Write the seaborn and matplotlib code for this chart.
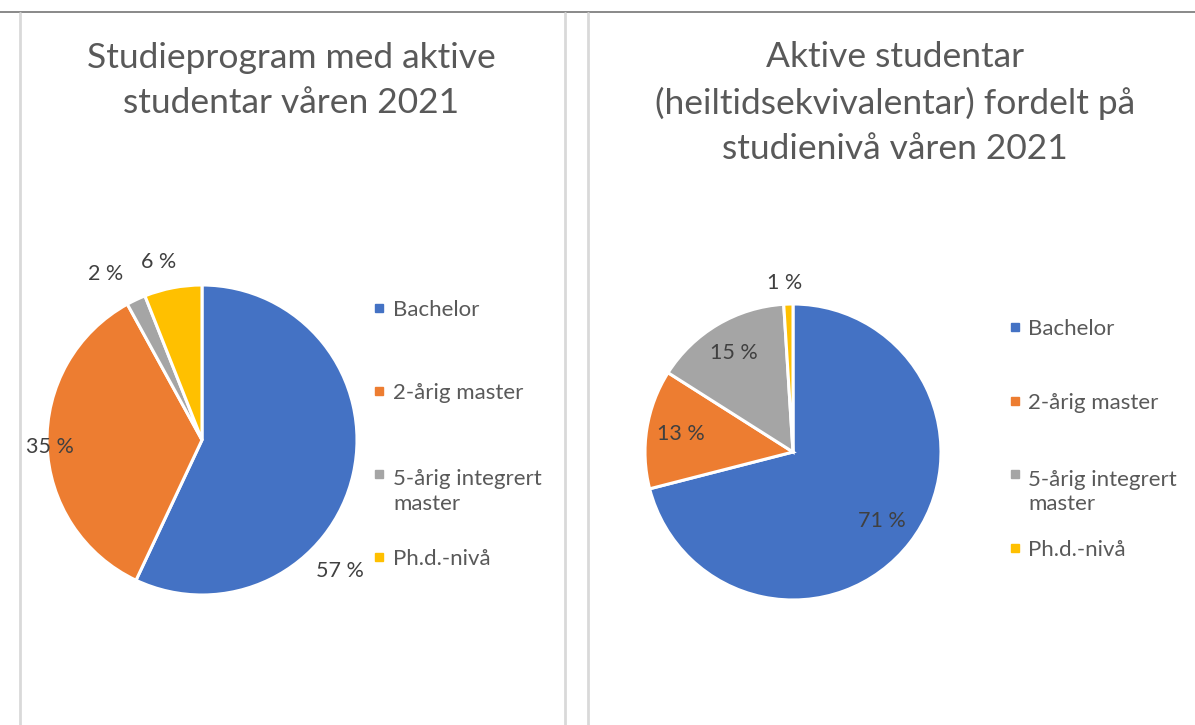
import numpy as np
import matplotlib.pyplot as plt
import seaborn as sns
from matplotlib.lines import Line2D
from matplotlib.patches import Rectangle

# data
categories = ["Bachelor", "2-årig master", "5-årig integrert\nmaster", "Ph.d.-nivå"]
program_share = [57, 35, 2, 6]      # studieprogram med aktive studentar
fte_share = [71, 13, 15, 1]         # aktive studentar (heiltidsekvivalentar)

title_left = "Studieprogram med aktive\nstudentar våren 2021"
title_right = "Aktive studentar\n(heiltidsekvivalentar) fordelt på\nstudienivå våren 2021"

W, H = 1195, 725
TXT = "#595959"


def main():
    sns.set_theme(style="white")
    plt.rcParams["font.family"] = ["Lato", "DejaVu Sans"]
    colors = sns.color_palette(["#4472C4", "#ED7D31", "#A5A5A5", "#FFC000"])

    fig = plt.figure(figsize=(W / 100, H / 100), dpi=100)
    fig.patch.set_facecolor("white")

    draw_frame(fig)

    # left pie, labels outside (best fit)
    ax1 = px_axes(fig, 202, 440, 155)
    draw_pie(ax1, program_share, colors, [1.23, 0.98, 1.24, 1.18], [-31, 1, 5, 3])
    fig.text(291 / W, 1 - 80.5 / H, title_left, ha="center", va="center",
             fontsize=25.5, color=TXT, linespacing=1.52)
    draw_legend(fig, colors, 379, 393, 308, 83)

    # right pie, labels inside
    ax2 = px_axes(fig, 793, 452, 148)
    draw_pie(ax2, fte_share, colors, [0.76, 0.77, 0.78, 1.14], [0, 0, 0, 1])
    fig.text(895 / W, 1 - 103 / H, title_right, ha="center", va="center",
             fontsize=25.5, color=TXT, linespacing=1.52)
    draw_legend(fig, colors, 1015, 1028, 327, 73.7)

    fig.savefig("out.png", dpi=100)


def px_axes(fig, cx, cy, r):
    return fig.add_axes([(cx - r) / W, (H - cy - r) / H, 2 * r / W, 2 * r / H])


def draw_pie(ax, values, colors, dists, offsets):
    wedges, _ = ax.pie(values, colors=colors, startangle=90, counterclock=False,
                       wedgeprops=dict(edgecolor="white", linewidth=2.2))
    for w in wedges:
        w.set_clip_on(False)
    ax.set_xlim(-1, 1)
    ax.set_ylim(-1, 1)
    ax.set_aspect("equal")
    ax.axis("off")
    for w, v, d, off in zip(wedges, values, dists, offsets):
        ang = np.deg2rad((w.theta1 + w.theta2) / 2 + off)
        ax.text(d * np.cos(ang), d * np.sin(ang), f"{v} %", ha="center", va="center",
                fontsize=15.5, color="#404040")


def draw_legend(fig, colors, mx, tx, y0, step):
    for i, (lab, col) in enumerate(zip(categories, colors)):
        y = y0 + i * step
        fig.patches.append(Rectangle(((mx - 4) / W, 1 - (y + 4) / H), 8 / W, 8 / H,
                                     transform=fig.transFigure, color=col))
        # baseline of the first line sits a little under the marker centre
        n = lab.count("\n")
        fig.text(tx / W, 1 - (y + 8 + 28 * n) / H, lab, ha="left", va="baseline",
                 fontsize=16, color=TXT, linespacing=1.3)


def draw_frame(fig):
    fig.add_artist(Line2D([0, 1], [1 - 12 / H] * 2, transform=fig.transFigure,
                          color="#808080", lw=1.3))
    for x in [20, 565, 588]:
        fig.add_artist(Line2D([x / W] * 2, [0, 1 - 13 / H], transform=fig.transFigure,
                              color="#d9d9d9", lw=2))


if __name__ == "__main__":
    main()
